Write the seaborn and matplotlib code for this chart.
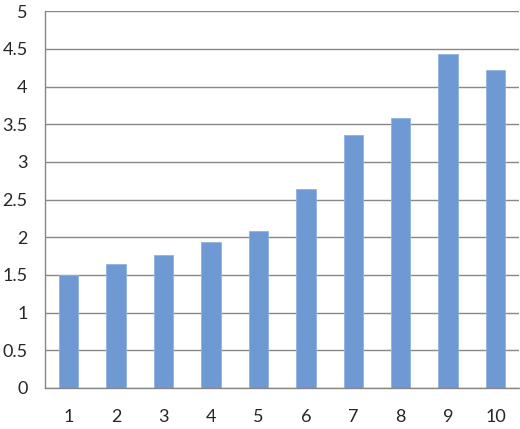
import numpy as np
import pandas as pd
import matplotlib
matplotlib.use("Agg")
import matplotlib.pyplot as plt
import seaborn as sns

# values
categories = ["1", "2", "3", "4", "5", "6", "7", "8", "9", "10"]
values = [1.50, 1.64, 1.76, 1.94, 2.09, 2.64, 3.36, 3.58, 4.44, 4.22]
y_ticks = [0, 0.5, 1, 1.5, 2, 2.5, 3, 3.5, 4, 4.5, 5]
y_labels = ["0", "0.5", "1", "1.5", "2", "2.5", "3", "3.5", "4", "4.5", "5"]

df = pd.DataFrame({"cat": categories, "val": values})

sns.set_style("white")
plt.rcParams["font.family"] = ["Lato", "DejaVu Sans"]

grid_col = "#878787"
bar_col = "#6F99D3"

fig = plt.figure(figsize=(5.2, 4.29), dpi=100)
ax = fig.add_axes([0.0865, 0.0956, 0.912, 0.878])

sns.barplot(data=df, x="cat", y="val", order=categories, color=bar_col,
            width=0.41, saturation=1, ax=ax, edgecolor="#8FB2E0", linewidth=0.6)

ax.set_xlim(-0.5, len(categories) - 0.5)
ax.set_ylim(0, 5)
ax.set_yticks(y_ticks)
ax.set_yticklabels(y_labels)
ax.yaxis.grid(True, color=grid_col, linewidth=1.0)
ax.set_axisbelow(True)

# tick marks sit between categories, labels under the bars
ax.set_xticks(np.arange(-0.5, len(categories), 1.0), minor=True)
ax.tick_params(axis="x", which="major", length=0, pad=15, labelsize=13)
ax.tick_params(axis="x", which="minor", length=6, width=1.0, color=grid_col, direction="out")
ax.tick_params(axis="y", which="major", length=4.5, width=1.0, color=grid_col,
               direction="out", pad=8, labelsize=13)

for side in ["top", "right"]:
    ax.spines[side].set_visible(False)
for side in ["left", "bottom"]:
    ax.spines[side].set_color(grid_col)
    ax.spines[side].set_linewidth(1.0)

ax.set_xlabel("")
ax.set_ylabel("")

fig.savefig("out.png", dpi=100)
